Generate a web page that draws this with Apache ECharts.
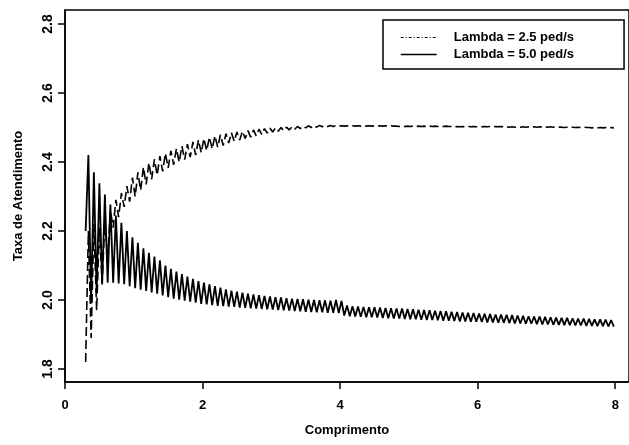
<!DOCTYPE html>
<html>
<head>
<meta charset="utf-8">
<script src="https://cdn.jsdelivr.net/npm/echarts@6/dist/echarts.min.js"></script>
<style>
  html, body { margin: 0; padding: 0; background: #fff; }
  #chart { width: 629px; height: 445px; }
</style>
</head>
<body>
<div id="chart"></div>
<script>
// Comprimento (length) at which each service rate was evaluated
const lengths = [
  0.30,0.34,0.38,0.42,0.46,0.50,0.54,0.58,0.62,0.66,0.70,0.74,0.78,0.82,0.86,0.90,0.94,0.98,
  1.02,1.06,1.10,1.14,1.18,1.22,1.26,1.30,1.34,1.38,1.42,1.46,1.50,1.54,1.58,1.62,1.66,1.70,1.74,1.78,1.82,1.86,1.90,1.94,1.98,
  2.02,2.06,2.10,2.14,2.18,2.22,2.26,2.30,2.34,2.38,2.42,2.46,2.50,2.54,2.58,2.62,2.66,2.70,2.74,2.78,2.82,2.86,2.90,2.94,2.98,
  3.02,3.06,3.10,3.14,3.18,3.22,3.26,3.30,3.34,3.38,3.42,3.46,3.50,3.54,3.58,3.62,3.66,3.70,3.74,3.78,3.82,3.86,3.90,3.94,3.98,
  4.02,4.06,4.10,4.14,4.18,4.22,4.26,4.30,4.34,4.38,4.42,4.46,4.50,4.54,4.58,4.62,4.66,4.70,4.74,4.78,4.82,4.86,4.90,4.94,4.98,
  5.02,5.06,5.10,5.14,5.18,5.22,5.26,5.30,5.34,5.38,5.42,5.46,5.50,5.54,5.58,5.62,5.66,5.70,5.74,5.78,5.82,5.86,5.90,5.94,5.98,
  6.02,6.06,6.10,6.14,6.18,6.22,6.26,6.30,6.34,6.38,6.42,6.46,6.50,6.54,6.58,6.62,6.66,6.70,6.74,6.78,6.82,6.86,6.90,6.94,6.98,
  7.02,7.06,7.10,7.14,7.18,7.22,7.26,7.30,7.34,7.38,7.42,7.46,7.50,7.54,7.58,7.62,7.66,7.70,7.74,7.78,7.82,7.86,7.90,7.94,7.98
];

// Taxa de Atendimento, arrival rate 2.5 ped/s
const rateLambda25 = [
  1.820,2.200,1.890,2.220,1.970,2.210,2.050,2.230,2.120,2.260,2.210,2.290,2.240,2.310,2.270,2.330,2.285,2.355,
  2.300,2.370,2.318,2.385,2.335,2.398,2.350,2.408,2.362,2.417,2.373,2.425,2.383,2.432,2.392,2.439,2.400,2.446,2.407,2.452,2.414,2.458,2.420,2.464,2.427,
  2.468,2.433,2.472,2.438,2.476,2.443,2.479,2.448,2.482,2.455,2.485,2.460,2.487,2.464,2.489,2.468,2.491,2.472,2.493,2.476,2.495,2.480,2.497,2.484,2.498,
  2.487,2.499,2.489,2.500,2.491,2.501,2.493,2.502,2.495,2.503,2.497,2.504,2.499,2.505,2.500,2.505,2.501,2.506,2.502,2.506,2.503,2.506,2.503,2.506,2.504,
  2.505,2.504,2.505,2.504,2.505,2.504,2.505,2.504,2.505,2.504,2.505,2.504,2.505,2.504,2.505,2.504,2.505,2.504,2.505,2.504,2.504,2.503,2.504,2.503,2.504,
  2.503,2.504,2.503,2.504,2.503,2.504,2.503,2.504,2.503,2.504,2.503,2.504,2.503,2.504,2.503,2.503,2.502,2.503,2.502,2.503,2.502,2.503,2.502,2.503,2.502,
  2.503,2.502,2.503,2.502,2.503,2.502,2.503,2.502,2.503,2.502,2.502,2.501,2.502,2.501,2.502,2.501,2.502,2.501,2.502,2.501,2.502,2.501,2.502,2.501,2.502,
  2.501,2.502,2.501,2.502,2.501,2.501,2.500,2.501,2.500,2.501,2.500,2.501,2.500,2.501,2.500,2.500,2.499,2.500,2.499,2.500,2.499,2.500,2.499,2.500,2.499
];

// Taxa de Atendimento, arrival rate 5.0 ped/s
const rateLambda50 = [
  2.200,2.420,1.990,2.370,2.020,2.338,2.045,2.306,2.050,2.277,2.050,2.245,2.048,2.224,2.046,2.200,2.040,2.182,
  2.034,2.166,2.030,2.150,2.026,2.137,2.022,2.126,2.018,2.115,2.013,2.100,2.008,2.090,2.004,2.082,2.001,2.075,1.998,2.068,1.995,2.061,1.992,2.055,1.989,
  2.050,1.987,2.045,1.985,2.040,1.983,2.036,1.982,2.031,1.981,2.027,1.980,2.024,1.978,2.021,1.977,2.018,1.976,2.016,1.975,2.014,1.974,2.012,1.973,2.010,
  1.972,2.008,1.971,2.007,1.970,2.005,1.969,2.004,1.968,2.003,1.967,2.002,1.966,2.001,1.965,2.000,1.964,1.999,1.964,1.999,1.963,1.998,1.963,2.000,1.962,
  1.997,1.955,1.984,1.953,1.982,1.952,1.981,1.951,1.980,1.950,1.979,1.950,1.979,1.949,1.978,1.948,1.977,1.947,1.976,1.946,1.975,1.946,1.975,1.945,1.974,
  1.944,1.973,1.944,1.972,1.943,1.971,1.942,1.970,1.942,1.969,1.941,1.968,1.940,1.967,1.940,1.966,1.939,1.965,1.938,1.964,1.938,1.963,1.937,1.962,1.937,
  1.961,1.936,1.960,1.935,1.959,1.935,1.958,1.934,1.958,1.934,1.957,1.933,1.956,1.932,1.955,1.932,1.954,1.931,1.953,1.931,1.952,1.930,1.952,1.929,1.951,
  1.929,1.950,1.928,1.949,1.928,1.948,1.927,1.948,1.927,1.947,1.926,1.946,1.926,1.946,1.925,1.945,1.925,1.944,1.924,1.944,1.924,1.943,1.923,1.942,1.923
];

const seriesNames = ['Lambda = 2.5 ped/s', 'Lambda = 5.0 ped/s'];
const xTicks = [0, 2, 4, 6, 8];
const yTicks = [1.8, 2.0, 2.2, 2.4, 2.6, 2.8];

const FONT = 'Liberation Sans';
const toPairs = (xs, ys) => xs.map((x, i) => [x, ys[i]]);

const chart = echarts.init(document.getElementById('chart'), null, { renderer: 'canvas' });
chart.setOption({
  animation: false,
  backgroundColor: '#fff',
  grid: {
    left: 65, top: 10, right: -1, bottom: 63,
    show: true, borderColor: '#000', borderWidth: 1.5, backgroundColor: 'transparent'
  },
  legend: {
    data: [
      { name: seriesNames[0], lineStyle: { color: '#000', width: 1.2, type: [3, 2, 1, 2] } },
      { name: seriesNames[1], lineStyle: { color: '#000', width: 1.5, type: 'solid' } }
    ],
    orient: 'vertical',
    left: 383, top: 20,
    padding: [11, 50, 8, 17],
    itemGap: 4,
    itemWidth: 36, itemHeight: 14,
    itemStyle: { color: 'transparent', borderColor: 'transparent', borderWidth: 0, opacity: 0 },
    borderColor: '#000', borderWidth: 1.5,
    backgroundColor: '#fff',
    textStyle: { fontFamily: FONT, fontSize: 13, fontWeight: 'bold', color: '#000', padding: [0, 0, 0, 12] }
  },
  xAxis: {
    type: 'value', min: 0, max: 8.2,
    name: 'Comprimento', nameLocation: 'middle', nameGap: 42,
    nameTextStyle: { fontFamily: FONT, fontSize: 13, fontWeight: 'bold', color: '#000' },
    axisLine: { show: true, lineStyle: { color: '#000', width: 1.5 } },
    axisTick: { show: true, customValues: xTicks, length: 7, lineStyle: { color: '#000', width: 1.5 } },
    axisLabel: { customValues: xTicks, margin: 17, fontFamily: FONT, fontSize: 13, fontWeight: 'bold', color: '#000' },
    splitLine: { show: false }
  },
  yAxis: {
    type: 'value', min: 1.7622, max: 2.8407,
    name: 'Taxa de Atendimento', nameLocation: 'middle', nameGap: 40,
    nameTextStyle: { fontFamily: FONT, fontSize: 13, fontWeight: 'bold', color: '#000' },
    axisLine: { show: true, lineStyle: { color: '#000', width: 1.5 } },
    axisTick: { show: true, customValues: yTicks, length: 7, lineStyle: { color: '#000', width: 1.5 } },
    axisLabel: {
      customValues: yTicks, rotate: 90, margin: 10,
      formatter: v => v.toFixed(1),
      fontFamily: FONT, fontSize: 14, fontWeight: 'bold', color: '#000'
    },
    splitLine: { show: false }
  },
  series: [
    {
      name: seriesNames[0], type: 'line', symbol: 'none', smooth: false,
      data: toPairs(lengths, rateLambda25),
      lineStyle: { color: '#000', width: 1.6, type: [9, 4] },
      itemStyle: { color: '#000' }
    },
    {
      name: seriesNames[1], type: 'line', symbol: 'none', smooth: false,
      data: toPairs(lengths, rateLambda50),
      lineStyle: { color: '#000', width: 1.8, type: 'solid' },
      itemStyle: { color: '#000' }
    }
  ]
});
</script>
</body>
</html>
